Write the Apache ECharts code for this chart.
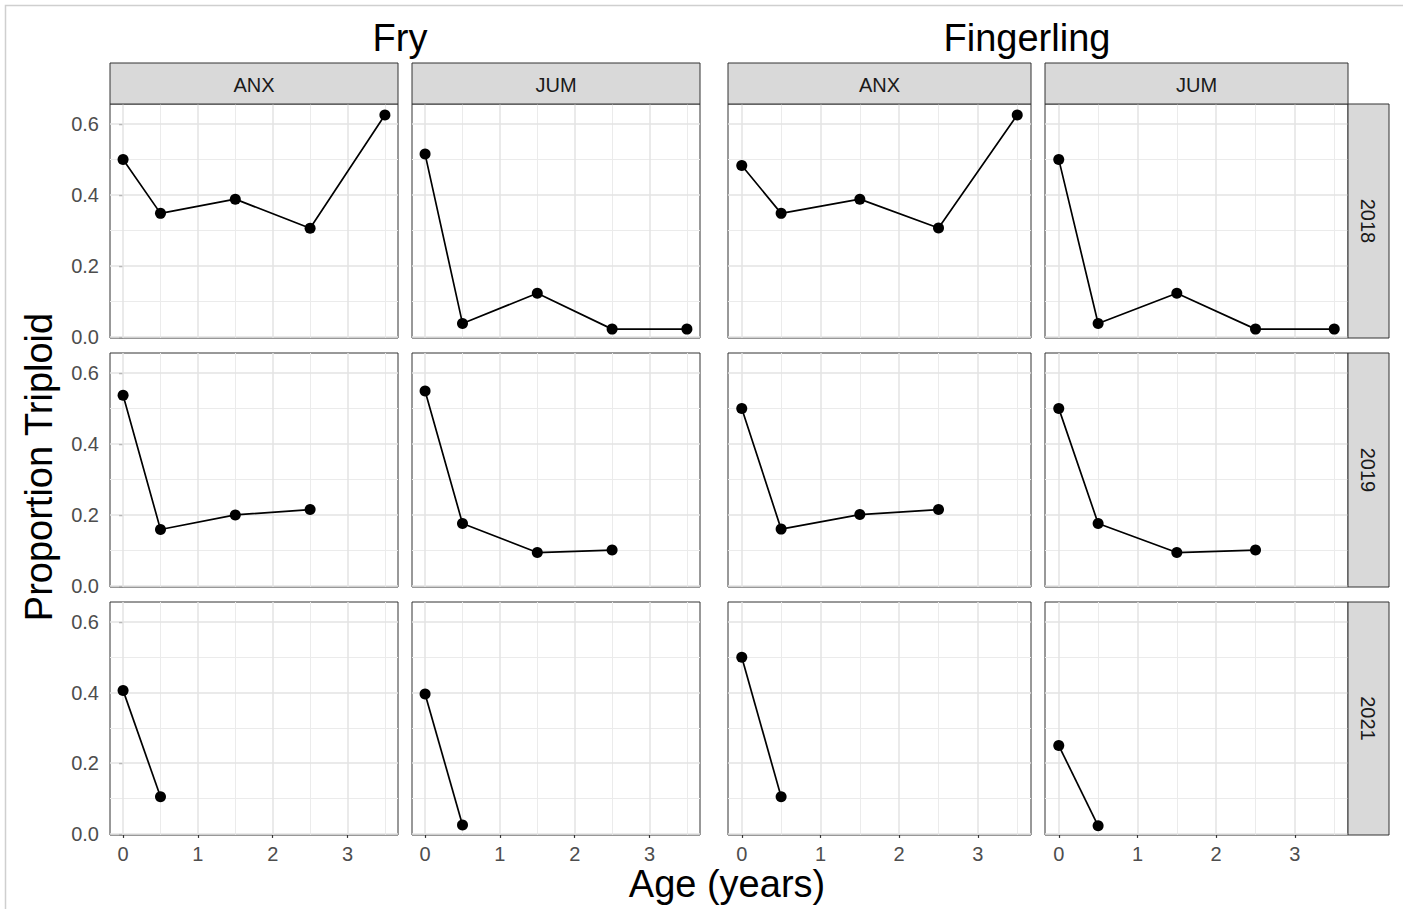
<!DOCTYPE html>
<html>
<head>
<meta charset="utf-8">
<script src="https://cdn.jsdelivr.net/npm/echarts@6/dist/echarts.min.js"></script>
<style>
  html, body { margin: 0; padding: 0; background: #ffffff; }
  #chart { width: 1403px; height: 909px; }
</style>
</head>
<body>
<div id="chart"></div>
<script>
// ---- data ----
const stages = ['Fry', 'Fingerling'];
const sites = ['ANX', 'JUM'];
const years = ['2018', '2019', '2021'];

const ages2018 = [0, 0.5, 1.5, 2.5, 3.5];
const ages2019 = [0, 0.5, 1.5, 2.5];
const ages2021 = [0, 0.5];

const fryANX2018 = [0.500, 0.348, 0.388, 0.306, 0.625];
const fryJUM2018 = [0.515, 0.038, 0.123, 0.022, 0.022];
const fingANX2018 = [0.483, 0.348, 0.388, 0.307, 0.625];
const fingJUM2018 = [0.500, 0.038, 0.123, 0.022, 0.022];

const fryANX2019 = [0.537, 0.159, 0.200, 0.215];
const fryJUM2019 = [0.549, 0.176, 0.094, 0.101];
const fingANX2019 = [0.500, 0.160, 0.201, 0.215];
const fingJUM2019 = [0.500, 0.176, 0.094, 0.101];

const fryANX2021 = [0.406, 0.105];
const fryJUM2021 = [0.396, 0.025];
const fingANX2021 = [0.500, 0.105];
const fingJUM2021 = [0.250, 0.023];

const xTicks = [0, 1, 2, 3];
const xMinorTicks = [0.5, 1.5, 2.5, 3.5];
const yTicks = [0, 0.2, 0.4, 0.6];
const yMinorTicks = [0.1, 0.3, 0.5];

const xTitle = 'Age (years)';
const yTitle = 'Proportion Triploid';

// ---- panel table: rows = year, columns = stage x site ----
const ageByYear = [ages2018, ages2019, ages2021];
const valuesByYear = [
  [fryANX2018, fryJUM2018, fingANX2018, fingJUM2018],
  [fryANX2019, fryJUM2019, fingANX2019, fingJUM2019],
  [fryANX2021, fryJUM2021, fingANX2021, fingJUM2021]
];

// ---- layout ----
const FONT = '"Liberation Sans", Arial, Helvetica, sans-serif';
const colLeft = [110, 412, 728, 1045];
const colWidth = [288, 288, 303, 303];
const rowTop = [104, 353, 602];
const rowHeight = [234, 234, 233];
const stripSize = 41;
const X_MIN = -0.175, X_MAX = 3.675;
const Y_MIN = -0.003, Y_MAX = 0.656;

const majorGrid = { color: '#e3e3e3', width: 1.5, type: 'solid' };
const minorGrid = { color: '#ebebeb', width: 1.0, type: 'solid' };

const grids = [], xAxes = [], yAxes = [], series = [];
let idx = 0;
for (let r = 0; r < years.length; r++) {
  for (let c = 0; c < 4; c++) {
    grids.push({
      left: colLeft[c], top: rowTop[r], width: colWidth[c], height: rowHeight[r],
      show: true, backgroundColor: '#ffffff', borderColor: '#333333', borderWidth: 1,
      containLabel: false
    });
    const bottomRow = r === years.length - 1;
    const firstCol = c === 0;
    xAxes.push({
      type: 'value', gridIndex: idx, min: X_MIN, max: X_MAX,
      axisLine: { show: false }, splitLine: { show: false },
      axisTick: { show: bottomRow, customValues: xTicks, length: 4, lineStyle: { color: '#333333', width: 1.2 } },
      axisLabel: { show: bottomRow, customValues: xTicks, color: '#4d4d4d', fontSize: 20, fontFamily: FONT, margin: 9 }
    });
    yAxes.push({
      type: 'value', gridIndex: idx, min: Y_MIN, max: Y_MAX,
      axisLine: { show: false }, splitLine: { show: false },
      axisTick: { show: firstCol, customValues: yTicks, length: 4, lineStyle: { color: '#333333', width: 1.2 } },
      axisLabel: { show: firstCol, customValues: yTicks, color: '#4d4d4d', fontSize: 20, fontFamily: FONT, margin: 11,
                   formatter: v => Number(v).toFixed(1) }
    });
    // background grid lines, placed through the panel's own axes
    series.push({
      type: 'line', xAxisIndex: idx, yAxisIndex: idx, data: [], silent: true, z: 1,
      markLine: {
        silent: true, z: 1, animation: false, symbol: ['none', 'none'],
        label: { show: false }, emphasis: { disabled: true },
        data: [
          ...xMinorTicks.map(v => ({ xAxis: v, lineStyle: minorGrid })),
          ...yMinorTicks.map(v => ({ yAxis: v, lineStyle: minorGrid })),
          ...xTicks.map(v => ({ xAxis: v, lineStyle: majorGrid })),
          ...yTicks.map(v => ({ yAxis: v, lineStyle: majorGrid }))
        ]
      }
    });
    const ages = ageByYear[r];
    const vals = valuesByYear[r][c];
    series.push({
      type: 'line', xAxisIndex: idx, yAxisIndex: idx, z: 10,
      name: stages[Math.floor(c / 2)] + ' ' + sites[c % 2] + ' ' + years[r],
      data: ages.map((a, k) => [a, vals[k]]),
      symbol: 'circle', symbolSize: 11, showSymbol: true,
      lineStyle: { color: '#000000', width: 1.7 },
      itemStyle: { color: '#000000' },
      emphasis: { disabled: true },
      animation: false
    });
    idx++;
  }
}

// ---- strips, titles and frame ----
const graphics = [];
// faint frame along the top and left edges
graphics.push({ type: 'rect', shape: { x: 5.5, y: 5.5, width: 1600, height: 1000 },
  style: { fill: 'none', stroke: '#cfcfcf', lineWidth: 1.5 }, z: 0, silent: true });

for (let c = 0; c < 4; c++) {
  graphics.push({ type: 'rect', shape: { x: colLeft[c], y: rowTop[0] - stripSize, width: colWidth[c], height: stripSize },
    style: { fill: '#d9d9d9', stroke: '#333333', lineWidth: 1 }, z: 50, silent: true });
  graphics.push({ type: 'text', x: colLeft[c] + colWidth[c] / 2, y: rowTop[0] - stripSize / 2 + 1.5,
    style: { text: sites[c % 2], font: '20px ' + FONT, fill: '#1a1a1a', align: 'center', verticalAlign: 'middle' }, z: 51, silent: true });
}
const stripX = colLeft[3] + colWidth[3];
for (let r = 0; r < years.length; r++) {
  graphics.push({ type: 'rect', shape: { x: stripX, y: rowTop[r], width: stripSize, height: rowHeight[r] },
    style: { fill: '#d9d9d9', stroke: '#333333', lineWidth: 1 }, z: 50, silent: true });
  graphics.push({ type: 'text', x: stripX + stripSize / 2 - 0.5, y: rowTop[r] + rowHeight[r] / 2, rotation: -Math.PI / 2,
    style: { text: years[r], font: '20px ' + FONT, fill: '#1a1a1a', align: 'center', verticalAlign: 'middle' }, z: 51, silent: true });
}
// stage titles over each pair of columns
graphics.push({ type: 'text', x: 400, y: 38,
  style: { text: stages[0], font: '38px ' + FONT, fill: '#000000', align: 'center', verticalAlign: 'middle' }, silent: true });
graphics.push({ type: 'text', x: 1027, y: 38,
  style: { text: stages[1], font: '38px ' + FONT, fill: '#000000', align: 'center', verticalAlign: 'middle' }, silent: true });
// axis titles
graphics.push({ type: 'text', x: 727, y: 884,
  style: { text: xTitle, font: '38px ' + FONT, fill: '#000000', align: 'center', verticalAlign: 'middle' }, silent: true });
graphics.push({ type: 'text', x: 39, y: 467, rotation: Math.PI / 2,
  style: { text: yTitle, font: '38px ' + FONT, fill: '#000000', align: 'center', verticalAlign: 'middle' }, silent: true });

const chart = echarts.init(document.getElementById('chart'), null, { renderer: 'svg', width: 1403, height: 909 });
chart.setOption({
  backgroundColor: '#ffffff',
  animation: false,
  grid: grids,
  xAxis: xAxes,
  yAxis: yAxes,
  series: series,
  graphic: { elements: graphics }
});
</script>
</body>
</html>
